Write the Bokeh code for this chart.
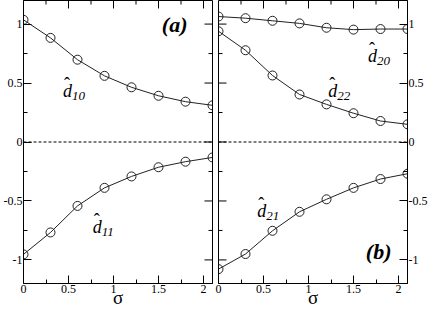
import math
from bokeh.plotting import figure
from bokeh.models import Range1d, FixedTicker, Span, Label
from bokeh.layouts import row
from bokeh.embed import file_html
from bokeh.resources import INLINE

# ---- data ----
sigma = [0.0, 0.3, 0.6, 0.9, 1.2, 1.5, 1.8, 2.1]
d10 = [1.036, 0.883, 0.698, 0.561, 0.464, 0.392, 0.342, 0.311]
d11 = [-0.953, -0.767, -0.542, -0.389, -0.292, -0.214, -0.167, -0.131]
d20 = [1.064, 1.050, 1.028, 1.006, 0.969, 0.953, 0.958, 0.958]
d22 = [0.939, 0.778, 0.564, 0.403, 0.319, 0.244, 0.178, 0.150]
d21 = [-1.078, -0.950, -0.753, -0.592, -0.486, -0.389, -0.314, -0.269]

x_ticks = [0, 0.5, 1, 1.5, 2]
x_tick_labels = ["0", "0.5", "1", "1.5", "2"]
x_minor = [0.25, 0.75, 1.25, 1.75]
y_ticks = [-1, -0.5, 0, 0.5, 1]
y_tick_labels = ["-1", "-0.5", "0", "0.5", "1"]
y_minor = [-0.75, -0.25, 0.25, 0.75]

X_MIN, X_MAX = 0.0, 2.1
Y_MIN, Y_MAX = -1.2, 1.2

FONT = "Liberation Serif"
FRAME_W = 190
H = 310
MAJ, MIN = 8, 4


def style_axis(ax, ticks, minor, labels):
    ax.ticker = FixedTicker(ticks=ticks, minor_ticks=minor)
    ax.major_label_overrides = {t: l for t, l in zip(ticks, labels)}
    ax.major_tick_in = MAJ
    ax.major_tick_out = 0
    ax.minor_tick_in = MIN
    ax.minor_tick_out = 0
    ax.major_tick_line_color = "black"
    ax.minor_tick_line_color = "black"
    ax.axis_line_color = "black"
    ax.major_label_text_font = FONT
    ax.major_label_text_color = "black"
    ax.major_label_text_font_size = "12px"
    ax.major_label_standoff = 1


def mirror_ticks(p, ylabels_side):
    # ticks on the top edge, pointing inward
    p.ray(x=x_ticks, y=[Y_MAX] * len(x_ticks), length=MAJ, length_units="screen",
          angle=-math.pi / 2, line_color="black", line_width=1)
    p.ray(x=x_minor, y=[Y_MAX] * len(x_minor), length=MIN, length_units="screen",
          angle=-math.pi / 2, line_color="black", line_width=1)
    # ticks on the unlabeled vertical edge
    if ylabels_side == "left":
        ex, ang = X_MAX, math.pi
    else:
        ex, ang = X_MIN, 0.0
    p.ray(x=[ex] * len(y_ticks), y=y_ticks, length=MAJ, length_units="screen",
          angle=ang, line_color="black", line_width=1)
    p.ray(x=[ex] * len(y_minor), y=y_minor, length=MIN, length_units="screen",
          angle=ang, line_color="black", line_width=1)


def make_panel(ylabels_side, series, tag, tag_pos, notes):
    left_b = 22 if ylabels_side == "left" else 3
    right_b = 3 if ylabels_side == "left" else 22
    p = figure(width=left_b + FRAME_W + right_b, height=H,
               x_range=Range1d(X_MIN, X_MAX), y_range=Range1d(Y_MIN, Y_MAX),
               output_backend="svg", toolbar_location=None,
               y_axis_location=ylabels_side,
               min_border_left=left_b, min_border_right=right_b,
               min_border_top=0, min_border_bottom=0)
    p.grid.visible = False
    p.outline_line_color = "black"
    p.outline_line_width = 1
    p.background_fill_color = "white"
    p.border_fill_color = "white"

    style_axis(p.xaxis[0], x_ticks, x_minor, x_tick_labels)
    style_axis(p.yaxis[0], y_ticks, y_minor, y_tick_labels)
    p.xaxis[0].axis_label = "σ"
    p.xaxis[0].axis_label_text_font = FONT
    p.xaxis[0].axis_label_text_color = "black"
    p.xaxis[0].axis_label_text_font_style = "normal"
    p.xaxis[0].axis_label_text_font_size = "19px"
    p.xaxis[0].axis_label_standoff = -9

    mirror_ticks(p, ylabels_side)

    p.add_layout(Span(location=0, dimension="width", line_color="black",
                      line_width=1, line_dash="3 2"))

    for ys in series:
        p.line(sigma, ys, line_color="#222222", line_width=1)
        p.scatter(sigma, ys, size=9, fill_color=None, line_color="#222222",
                  line_width=1)

    p.add_layout(Label(x=tag_pos[0], y=tag_pos[1], text=tag, text_font=FONT,
                       text_color="black",
                       text_font_style="bold italic", text_font_size="22px",
                       text_align="center", text_baseline="middle"))

    for sub, (nx, ny) in notes:
        p.add_layout(Label(x=nx, y=ny, text="d", text_font=FONT,
                           text_color="black",
                           text_font_style="italic", text_font_size="18px",
                           text_baseline="alphabetic"))
        p.add_layout(Label(x=nx, y=ny, text="ˆ", text_font=FONT,
                           text_color="black",
                           text_font_size="18px", x_offset=1, y_offset=7,
                           text_baseline="alphabetic"))
        p.add_layout(Label(x=nx, y=ny, text=sub, text_font=FONT,
                           text_color="black",
                           text_font_style="italic", text_font_size="13px",
                           x_offset=9, y_offset=-5,
                           text_baseline="alphabetic"))
    return p


pa = make_panel("left", [d10, d11], "(a)", (1.68, 1.0),
                [("10", (0.44, 0.43)), ("11", (0.77, -0.725))])
pb = make_panel("right", [d20, d22, d21], "(b)", (1.78, -0.925),
                [("20", (1.66, 0.733)), ("22", (1.22, 0.433)),
                 ("21", (0.43, -0.583))])

layout = row(pa, pb, spacing=0)
open("out.html", "w").write(file_html(layout, INLINE))
